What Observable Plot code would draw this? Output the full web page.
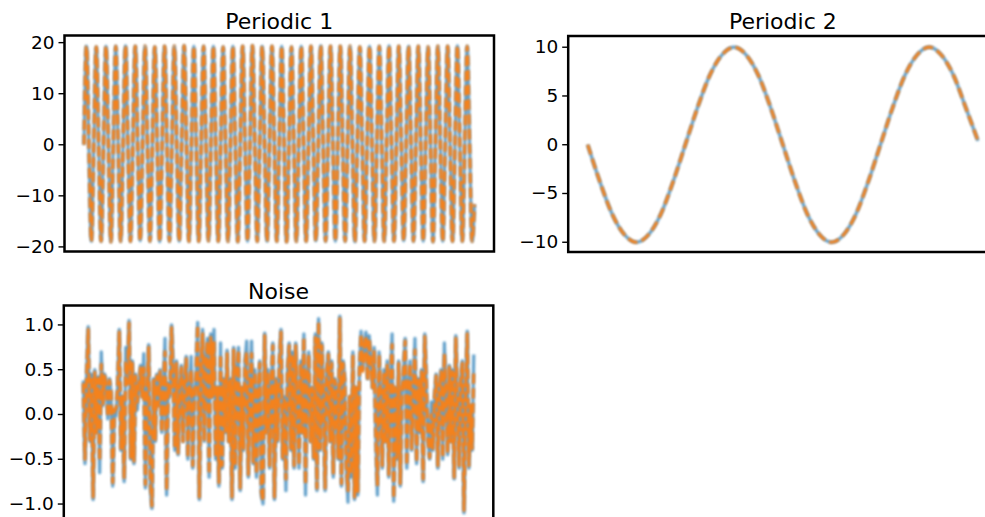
<!DOCTYPE html>
<html>
<head>
<meta charset="utf-8">
<script src="https://cdn.jsdelivr.net/npm/d3@7"></script>
<script src="https://cdn.jsdelivr.net/npm/@observablehq/plot@0.6"></script>
<style>
  html, body { margin: 0; padding: 0; background: #fff; overflow: hidden; }
  #chart { position: relative; width: 985px; height: 517px; overflow: hidden; }
  .panel { position: absolute; width: 520px; height: 262px; }
  .panel svg { max-width: none !important; }
</style>
</head>
<body>
<div id="chart"></div>
<script>
// Panel titles
const titles = ["Periodic 1", "Periodic 2", "Noise"];

// Periodic 1: samples every quarter cycle (40 cycles), observed and reconstructed coincide
const periodic1 = [
  0, 19.3, 0, -18.9, 0, 19.2, 0, -18.9,
  0, 19.3, 0, -19.0, 0, 19.3, 0, -18.9,
  0, 19.4, 0, -18.9, 0, 19.3, 0, -18.8,
  0, 19.3, 0, -18.9, 0, 19.2, 0, -19.0,
  0, 19.3, 0, -18.9, 0, 19.3, 0, -18.9,
  0, 19.4, 0, -18.9, 0, 19.3, 0, -18.9,
  0, 19.3, 0, -18.8, 0, 19.3, 0, -18.9,
  0, 19.2, 0, -18.9, 0, 19.3, 0, -19.0,
  0, 19.3, 0, -18.9, 0, 19.4, 0, -18.9,
  0, 19.3, 0, -18.9, 0, 19.3, 0, -18.9,
  0, 19.3, 0, -19.0, 0, 19.2, 0, -18.9,
  0, 19.3, 0, -18.9, 0, 19.3, 0, -18.8,
  0, 19.4, 0, -18.9, 0, 19.3, 0, -18.9,
  0, 19.3, 0, -18.9, 0, 19.3, 0, -19.0,
  0, 19.2, 0, -18.9, 0, 19.3, 0, -18.9,
  0, 19.3, 0, -18.9, 0, 19.4, 0, -18.9,
  0, 19.3, 0, -18.8, 0, 19.3, 0, -18.9,
  0, 19.3, 0, -18.9, 0, 19.2, 0, -19.0,
  0, 19.3, 0, -18.9, 0, 19.3, 0, -18.9,
  0, 19.4, 0, -18.9, 0, 19.3, 0, -18.9,
  -11.7
];

// Periodic 2: samples every 1/16 cycle (2 cycles)
const periodic2 = [
  0, -3.8, -7.1, -9.2, -10, -9.2, -7.1, -3.8,
  0, 3.8, 7.1, 9.2, 10, 9.2, 7.1, 3.8,
  0, -3.8, -7.1, -9.2, -10, -9.2, -7.1, -3.8,
  0, 3.8, 7.1, 9.2, 10, 9.2, 7.1, 3.8,
  0.4
];

// Noise: observed series
const noiseObserved = [
  0.38, -0.55, 0.42, 0.98, -0.3, 0.45, -0.95, 0.5, -0.2, 0.42,
  -0.65, 0.7, 0.1, 0.45, 0.35, -0.05, 0.4, 0.25, -0.8, 0.05,
  -0.02, 0.3, 0.95, -0.4, 0.2, -0.75, 0.75, 0.35, 1.05, -0.5,
  0.6, -0.55, 0.45, 0.05, 0.3, 0.55, 0.2, 0.68, -0.82, 0.15,
  0.78, -0.8, -1.05, 0.4, -0.3, 0.45, 0.1, 0.5, -0.2, 0.3,
  0.85, -0.9, 0.35, 0.2, 1.0, 0.5, -0.4, 0.6, -0.45, 0.3,
  0.55, -0.3, 0.4, 0.65, -0.5, 0.3, 0.65, -0.6, 0.2, 0.45,
  1.03, -0.95, 0.5, 0.95, -0.3, 0.6, 0.85, -0.7, 0.9, 0.2,
  0.95, -0.5, 0.3, -0.8, 0.8, -0.6, 0.4, -0.2, 0.72, -0.3,
  0.4, -0.95, 0.75, -0.6, 0.5, 0.75, -0.85, 0.3, -0.4, 0.6,
  0.82, -0.7, 0.3, 0.82, -0.55, 0.5, -0.7, 0.2, 0.6, -0.9,
  -1.0, 0.91, -0.2, 0.5, -0.6, 0.3, 0.8, -0.95, 0.4, -0.3,
  0.6, 0.95, -0.5, 0.2, -0.85, 0.5, 0.8, -0.4, 0.7, -0.6,
  0.8, 0.1, -0.6, 0.6, -0.2, 0.9, -0.9, 0.4, 0.7, -0.3,
  0.3, -0.5, 0.9, -0.85, 1.07, -0.4, 0.8, 0.2, -0.85, 0.5,
  0.7, -0.3, 0.6, -0.7, 0.4, 0.2, -0.5, 1.1, -0.8, 0.6,
  0.4, -0.6, -0.98, 0.2, -0.7, 0.7, -0.95, 0.3, -0.9, 0.5,
  0.93, 0.5, 0.8, 0.92, 0.4, 0.88, 0.6, 0.3, 0.75, -0.2,
  -0.9, 0.7, 0.2, -0.6, 0.5, -0.3, 0.6, -0.7, 0.4, 0.9,
  -0.97, 0.3, -0.5, 0.6, -0.8, 0.2, 0.5, 0.85, -0.6, 0.3,
  0.6, -0.4, 0.3, 0.85, -0.55, 0.4, -0.2, 0.5, -0.75, 0.9,
  0.3, -0.3, -0.5, 0.14, -0.4, 0.2, 0.45, -0.6, 0.3, 0.5,
  -0.5, 0.8, 0.2, -0.45, 0.55, -0.3, 0.5, -0.72, 0.88, 0.1,
  -0.6, 0.4, 0.6, -1.1, 0.2, 0.93, -0.6, 0.1, -0.4, 0.67
];

// Noise: reconstructed series
const noiseReconstructed = [
  0.35, -0.5, 0.4, 0.95, -0.28, 0.43, -0.92, 0.47, -0.2, 0.4,
  -0.52, 0.56, 0.12, 0.43, 0.33, -0.03, 0.38, 0.24, -0.76, 0.06,
  0.06, 0.3, 0.92, -0.38, 0.2, -0.72, 0.6, 0.34, 1.02, -0.48,
  0.57, -0.52, 0.43, 0.14, 0.3, 0.52, 0.2, 0.52, -0.78, 0.15,
  0.75, -0.72, -1.02, 0.38, -0.28, 0.43, 0.1, 0.48, -0.2, 0.3,
  0.7, -0.85, 0.34, 0.2, 0.97, 0.38, -0.38, 0.57, -0.43, 0.3,
  0.52, -0.3, 0.38, 0.62, -0.48, 0.3, 0.5, -0.57, 0.2, 0.43,
  1.0, -0.92, 0.48, 0.9, -0.3, 0.57, 0.82, -0.67, 0.86, 0.2,
  0.82, -0.48, 0.3, -0.76, 0.67, -0.57, 0.38, -0.2, 0.68, -0.3,
  0.38, -0.92, 0.72, -0.57, 0.48, 0.72, -0.82, 0.3, -0.38, 0.57,
  0.7, -0.67, 0.3, 0.68, -0.53, 0.48, -0.67, 0.2, 0.57, -0.86,
  -0.97, 0.88, -0.2, 0.48, -0.57, 0.3, 0.77, -0.92, 0.38, -0.3,
  0.57, 0.92, -0.48, 0.2, -0.72, 0.48, 0.77, -0.38, 0.67, -0.57,
  0.77, 0.1, -0.57, 0.57, -0.2, 0.86, -0.78, 0.38, 0.67, -0.3,
  0.3, -0.48, 0.86, -0.82, 1.04, -0.38, 0.77, 0.2, -0.82, 0.48,
  0.67, -0.3, 0.57, -0.67, 0.38, 0.2, -0.48, 1.07, -0.77, 0.57,
  0.38, -0.57, -0.85, 0.2, -0.67, 0.67, -0.92, 0.3, -0.86, 0.48,
  0.9, 0.48, 0.77, 0.88, 0.38, 0.85, 0.57, 0.3, 0.72, -0.2,
  -0.8, 0.67, 0.2, -0.57, 0.48, -0.3, 0.57, -0.67, 0.38, 0.78,
  -0.94, 0.3, -0.48, 0.57, -0.77, 0.2, 0.48, 0.82, -0.57, 0.3,
  0.57, -0.38, 0.3, 0.72, -0.53, 0.38, -0.2, 0.48, -0.72, 0.87,
  0.3, -0.3, -0.48, 0.0, -0.38, 0.2, 0.43, -0.57, 0.3, 0.48,
  -0.48, 0.68, 0.2, -0.43, 0.53, -0.3, 0.48, -0.7, 0.85, 0.1,
  -0.57, 0.38, 0.57, -1.07, 0.2, 0.9, -0.57, 0.1, -0.38, 0.5
];

// Y tick values per panel
const ticksPeriodic1 = [-20, -10, 0, 10, 20];
const ticksPeriodic2 = [-10, -5, 0, 5, 10];
const ticksNoise = [-1.0, -0.5, 0.0, 0.5, 1.0];

const BLUE = "#1f77b4";
const ORANGE = "#ff7f0e";

function panel({title, observed, reconstructed, yDomain, yTicks, tickFormat, curve, left, top, margin}) {
  const n = observed.length - 1;
  const [mt, mr, mb, ml] = margin;
  const svg = Plot.plot({
    width: 520,
    height: 262,
    marginTop: mt, marginRight: mr, marginBottom: mb, marginLeft: ml,
    x: {domain: [-0.05 * n, 1.05 * n], axis: null},
    y: {domain: yDomain},
    style: {fontFamily: "DejaVu Sans", fontSize: "18.5px", color: "black", background: "transparent", overflow: "visible", maxWidth: "none"},
    marks: [
      Plot.lineY(observed, {stroke: BLUE, strokeWidth: 3.2, strokeOpacity: 0.7, curve, strokeLinecap: "butt"}),
      Plot.lineY(reconstructed, {stroke: ORANGE, strokeWidth: 3.2, strokeOpacity: 0.92, strokeDasharray: "10.3,4.4", strokeLinecap: "butt", curve}),
      Plot.axisY({ticks: yTicks, tickFormat, tickSize: 5.5, tickPadding: 4.5, strokeWidth: 1.4, fontSize: 18.5, label: null, anchor: "left"}),
      Plot.frame({stroke: "black", strokeWidth: 2.5}),
      Plot.text([title], {text: d => d, frameAnchor: "top", lineAnchor: "bottom", dy: -7, fontSize: 22, fill: "black"})
    ]
  });
  // soften the data lines slightly
  svg.querySelectorAll('g[aria-label="line"]').forEach(g => { g.style.filter = "blur(0.8px)"; });
  const wrap = document.createElement("div");
  wrap.className = "panel";
  wrap.style.left = left + "px";
  wrap.style.top = top + "px";
  wrap.appendChild(svg);
  document.getElementById("chart").appendChild(wrap);
}

panel({
  title: titles[0], observed: periodic1, reconstructed: periodic1,
  yDomain: [-20.9, 21.4], yTicks: ticksPeriodic1, tickFormat: d3.format("d"),
  curve: "monotone-x", left: 0, top: 0, margin: [35, 26.5, 11, 64]
});

panel({
  title: titles[1], observed: periodic2, reconstructed: periodic2,
  yDomain: [-11.0, 11.15], yTicks: ticksPeriodic2, tickFormat: d3.format("d"),
  curve: "monotone-x", left: 500, top: 0, margin: [35.5, 23, 10.5, 67.7]
});

panel({
  title: titles[2], observed: noiseObserved, reconstructed: noiseReconstructed,
  yDomain: [-1.195, 1.217], yTicks: ticksNoise, tickFormat: d3.format(".1f"),
  curve: "linear", left: 0, top: 270, margin: [35, 27.2, 11, 63.3]
});
</script>
</body>
</html>
